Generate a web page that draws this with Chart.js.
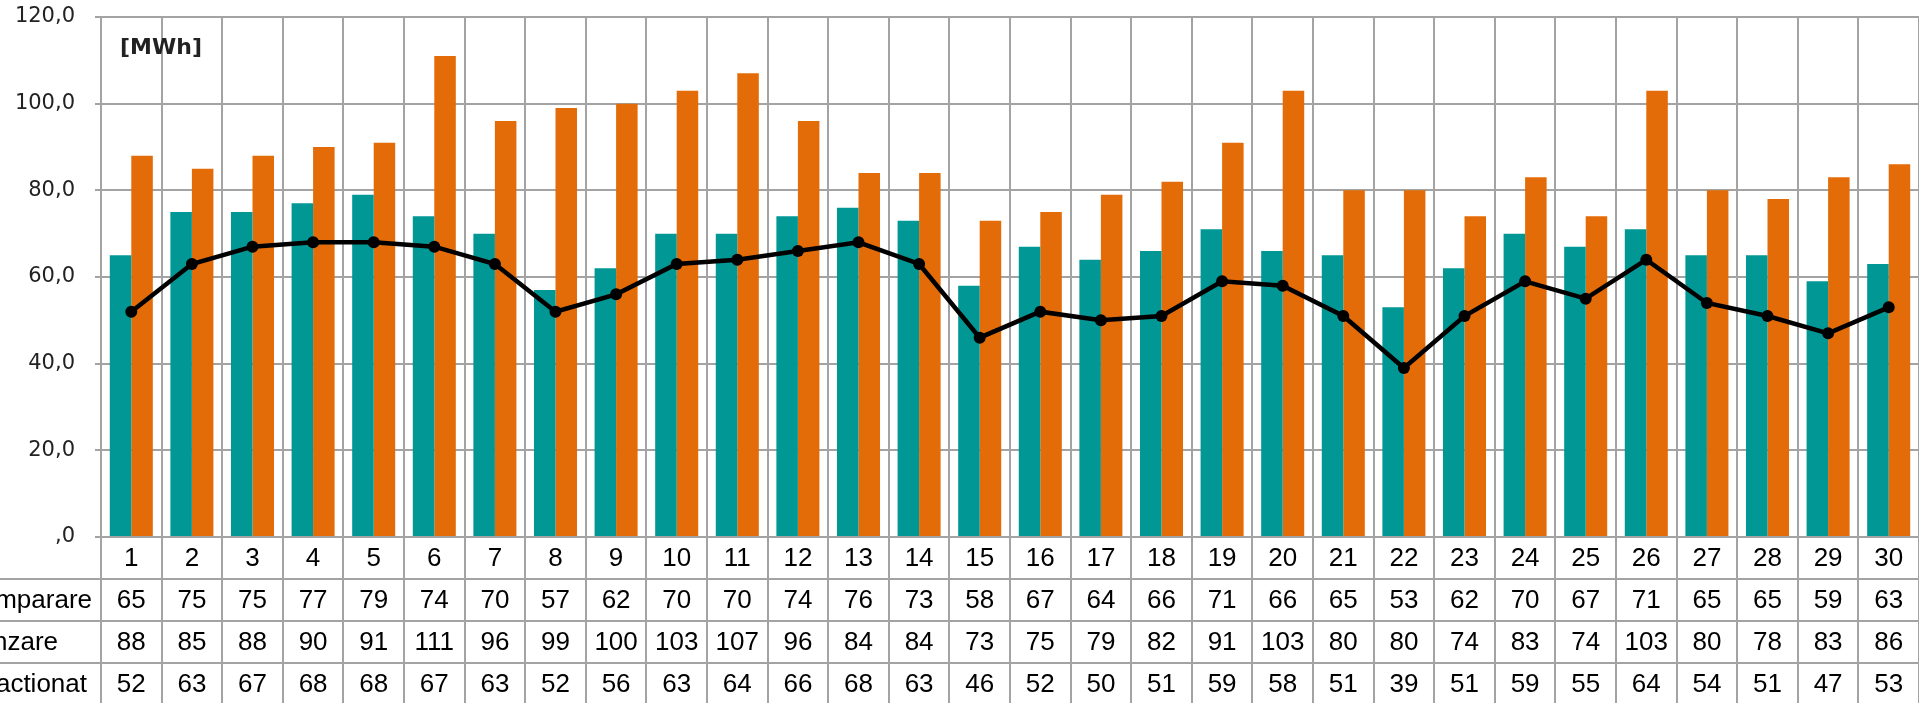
<!DOCTYPE html>
<html>
<head>
<meta charset="utf-8">
<script src="https://cdn.jsdelivr.net/npm/chart.js@4.4.1/dist/chart.umd.min.js"></script>
<style>
  html, body { margin: 0; padding: 0; overflow: hidden; background: #fff; }
  #wrap { width: 1925px; height: 703px; }
</style>
</head>
<body>
<div id="wrap"><canvas id="chart" width="1925" height="703"></canvas></div>
<script>
const days = ["1","2","3","4","5","6","7","8","9","10","11","12","13","14","15","16","17","18","19","20","21","22","23","24","25","26","27","28","29","30"];
const seriesNames = ["Cumparare", "Vanzare", "Tranzactionat"];
const cumparare = [65, 75, 75, 77, 79, 74, 70, 57, 62, 70, 70, 74, 76, 73, 58, 67, 64, 66, 71, 66, 65, 53, 62, 70, 67, 71, 65, 65, 59, 63];
const vanzare = [88, 85, 88, 90, 91, 111, 96, 99, 100, 103, 107, 96, 84, 84, 73, 75, 79, 82, 91, 103, 80, 80, 74, 83, 74, 103, 80, 78, 83, 86];
const tranzactionat = [52, 63, 67, 68, 68, 67, 63, 52, 56, 63, 64, 66, 68, 63, 46, 52, 50, 51, 59, 58, 51, 39, 51, 59, 55, 64, 54, 51, 47, 53];
const yMin = 0, yMax = 120, yStep = 20;
const unitLabel = "[MWh]";

const gridColor = "#a3a3a3";
const tableFont = '26px "Liberation Sans", Arial, sans-serif';
// the series names are cut by the left edge of the picture
const nameRightEdge = [92, 58, 87];

// data table under the plot + unit label
const tablePlugin = {
  id: "dataTable",
  afterDraw(chart) {
    const { ctx, chartArea, scales: { x } } = chart;
    const rowH = 42;
    const top = chartArea.bottom;
    const rows = [days, cumparare, vanzare, tranzactionat];
    const n = days.length;
    const colW = (x.right - x.left) / n;

    ctx.save();
    ctx.strokeStyle = gridColor;
    ctx.lineWidth = 2;
    // horizontal lines
    for (let r = 1; r < rows.length; r++) {
      const y = Math.round(top + r * rowH);
      ctx.beginPath();
      ctx.moveTo(0, y);
      ctx.lineTo(chart.width, y);
      ctx.stroke();
    }
    // vertical lines
    for (let i = 0; i <= n; i++) {
      const xp = Math.round(x.left + i * colW);
      ctx.beginPath();
      ctx.moveTo(xp, top);
      ctx.lineTo(xp, chart.height);
      ctx.stroke();
    }

    ctx.fillStyle = "#000";
    ctx.font = tableFont;
    ctx.textBaseline = "middle";
    rows.forEach((vals, r) => {
      const cy = top + r * rowH + rowH / 2 + 1;
      ctx.textAlign = "center";
      vals.forEach((v, i) => {
        ctx.fillText(String(v), x.getPixelForValue(i), cy);
      });
      if (r > 0) {
        ctx.textAlign = "right";
        ctx.fillText(seriesNames[r - 1], nameRightEdge[r - 1], cy);
      }
    });

    ctx.font = 'bold 22px "DejaVu Sans", sans-serif';
    ctx.fillStyle = "#222";
    ctx.textAlign = "left";
    ctx.fillText(unitLabel, 120, 48);
    ctx.restore();
  }
};

new Chart(document.getElementById("chart"), {
  type: "bar",
  data: {
    labels: days,
    datasets: [
      {
        type: "line",
        label: seriesNames[2],
        data: tranzactionat,
        borderColor: "#000",
        backgroundColor: "#000",
        borderWidth: 4.5,
        pointRadius: 6,
        pointBackgroundColor: "#000",
        pointBorderWidth: 0,
        tension: 0,
        order: 0
      },
      {
        label: seriesNames[0],
        data: cumparare,
        backgroundColor: "#009795",
        categoryPercentage: 0.71,
        barPercentage: 1,
        order: 1
      },
      {
        label: seriesNames[1],
        data: vanzare,
        backgroundColor: "#e36c09",
        categoryPercentage: 0.71,
        barPercentage: 1,
        order: 1
      }
    ]
  },
  options: {
    responsive: false,
    animation: false,
    events: [],
    layout: { padding: { left: 0, right: 5, top: 17, bottom: 166 } },
    plugins: {
      legend: { display: false },
      tooltip: { enabled: false },
      title: { display: false }
    },
    scales: {
      x: {
        offset: true,
        grid: { offset: true, color: gridColor, lineWidth: 2, drawTicks: false },
        border: { color: gridColor, width: 2 },
        ticks: { display: false }
      },
      y: {
        min: yMin,
        max: yMax,
        ticks: {
          stepSize: yStep,
          color: "#222",
          padding: 20,
          font: { family: '"DejaVu Sans", sans-serif', size: 21 },
          callback: v => v === 0 ? ",0" : v.toFixed(1).replace(".", ",")
        },
        grid: { color: gridColor, lineWidth: 2, tickLength: 6 },
        border: { color: gridColor, width: 2 },
        afterFit: s => { s.width = 101; s.paddingTop = 0; s.paddingBottom = 0; }
      }
    }
  },
  plugins: [tablePlugin]
});
</script>
</body>
</html>
